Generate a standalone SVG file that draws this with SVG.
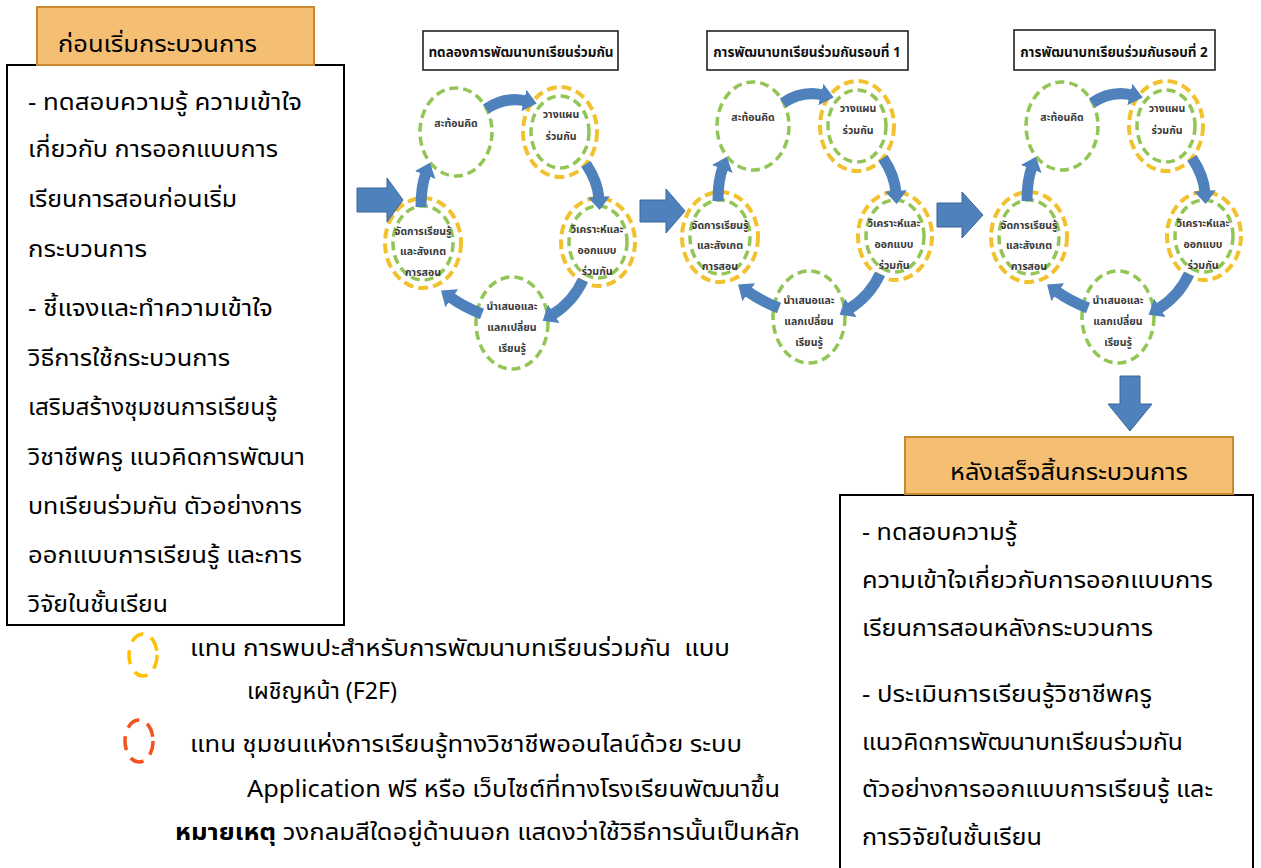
<svg xmlns="http://www.w3.org/2000/svg" width="1261" height="868" viewBox="0 0 1261 868">
<style>
.t{font-family:'Noto Sans Thai','Noto Sans','Leelawadee UI',Tahoma,'DejaVu Sans',sans-serif;fill:#000}
.b{font-size:23px}
.h{font-size:23px}
.ct{font-family:'Noto Sans Thai','Noto Sans',Tahoma,sans-serif;font-size:10.5px;font-weight:bold;text-anchor:middle;fill:#3a3a3a}
.tt{font-family:'Noto Sans Thai','Noto Sans',Tahoma,sans-serif;font-size:13.5px;font-weight:bold;text-anchor:middle;fill:#111}
.hdr{fill:#f5bf73;stroke:#c98a2e;stroke-width:2}
.box{fill:#fff;stroke:#000;stroke-width:2}
.tbox{fill:#fff;stroke:#222;stroke-width:1.6}
.g{fill:none;stroke:#92c556;stroke-width:3.5;stroke-dasharray:9 5}
.y{fill:none;stroke:#f2c12e;stroke-width:4;stroke-dasharray:10 5}
.arc{fill:none;stroke:#4f81bd;stroke-width:11;marker-end:url(#ah)}
.blk{fill:#4f81bd;stroke:#3a6596;stroke-width:1}
</style>
<defs>
<marker id="ah" viewBox="0 0 6 10" refX="1" refY="5" markerWidth="1.2" markerHeight="2" orient="auto"><path d="M0,0 L6,5 L0,10 z" fill="#4f81bd"/></marker>
</defs>
<rect width="1261" height="868" fill="#fff"/>

<g id="before">
<rect class="box" x="7" y="65" width="337" height="560"/>
<rect class="hdr" x="37" y="7" width="277" height="58"/>
<text class="t h" x="58" y="52" textLength="199" lengthAdjust="spacingAndGlyphs">ก่อนเริ่มกระบวนการ</text>
<text class="t b" x="28" y="110" textLength="274" lengthAdjust="spacingAndGlyphs">- ทดสอบความรู้ ความเข้าใจ</text>
<text class="t b" x="28" y="157" textLength="250" lengthAdjust="spacingAndGlyphs">เกี่ยวกับ การออกแบบการ</text>
<text class="t b" x="28" y="207" textLength="209" lengthAdjust="spacingAndGlyphs">เรียนการสอนก่อนเริ่ม</text>
<text class="t b" x="28" y="257" textLength="119" lengthAdjust="spacingAndGlyphs">กระบวนการ</text>
<text class="t b" x="28" y="316" textLength="245" lengthAdjust="spacingAndGlyphs">- ชี้แจงและทำความเข้าใจ</text>
<text class="t b" x="28" y="366" textLength="202" lengthAdjust="spacingAndGlyphs">วิธีการใช้กระบวนการ</text>
<text class="t b" x="28" y="415" textLength="249" lengthAdjust="spacingAndGlyphs">เสริมสร้างชุมชนการเรียนรู้</text>
<text class="t b" x="28" y="465" textLength="277" lengthAdjust="spacingAndGlyphs">วิชาชีพครู แนวคิดการพัฒนา</text>
<text class="t b" x="28" y="514" textLength="274" lengthAdjust="spacingAndGlyphs">บทเรียนร่วมกัน ตัวอย่างการ</text>
<text class="t b" x="28" y="563" textLength="274" lengthAdjust="spacingAndGlyphs">ออกแบบการเรียนรู้ และการ</text>
<text class="t b" x="28" y="612" textLength="140" lengthAdjust="spacingAndGlyphs">วิจัยในชั้นเรียน</text>
</g>

<g id="after">
<rect class="box" x="840" y="495" width="413" height="400"/>
<rect class="hdr" x="905" y="437" width="328" height="57"/>
<text class="t h" x="950" y="480" textLength="238" lengthAdjust="spacingAndGlyphs">หลังเสร็จสิ้นกระบวนการ</text>
<text class="t b" x="862" y="540" textLength="155" lengthAdjust="spacingAndGlyphs">- ทดสอบความรู้</text>
<text class="t b" x="862" y="588" textLength="351" lengthAdjust="spacingAndGlyphs">ความเข้าใจเกี่ยวกับการออกแบบการ</text>
<text class="t b" x="862" y="636" textLength="291" lengthAdjust="spacingAndGlyphs">เรียนการสอนหลังกระบวนการ</text>
<text class="t b" x="862" y="702" textLength="290" lengthAdjust="spacingAndGlyphs">- ประเมินการเรียนรู้วิชาชีพครู</text>
<text class="t b" x="862" y="750" textLength="321" lengthAdjust="spacingAndGlyphs">แนวคิดการพัฒนาบทเรียนร่วมกัน</text>
<text class="t b" x="862" y="797" textLength="351" lengthAdjust="spacingAndGlyphs">ตัวอย่างการออกแบบการเรียนรู้ และ</text>
<text class="t b" x="862" y="845" textLength="180" lengthAdjust="spacingAndGlyphs">การวิจัยในชั้นเรียน</text>
</g>

<g id="legend">
<ellipse cx="143" cy="655" rx="14" ry="21" fill="none" stroke="#ffc000" stroke-width="3.5" stroke-dasharray="14 9"/>
<ellipse cx="139" cy="741" rx="14" ry="21" fill="none" stroke="#f4511e" stroke-width="3.5" stroke-dasharray="14 9"/>
<text class="t b" x="190" y="656" textLength="540" lengthAdjust="spacingAndGlyphs" xml:space="preserve">แทน การพบปะสำหรับการพัฒนาบทเรียนร่วมกัน  แบบ</text>
<text class="t b" x="247" y="699" textLength="150" lengthAdjust="spacingAndGlyphs">เผชิญหน้า (F2F)</text>
<text class="t b" x="190" y="752" textLength="552" lengthAdjust="spacingAndGlyphs">แทน ชุมชนแห่งการเรียนรู้ทางวิชาชีพออนไลน์ด้วย ระบบ</text>
<text class="t b" x="247" y="797" textLength="533" lengthAdjust="spacingAndGlyphs">Application ฟรี หรือ เว็บไซต์ที่ทางโรงเรียนพัฒนาขึ้น</text>
<text class="t b" x="175" y="840" textLength="625" lengthAdjust="spacingAndGlyphs"><tspan font-weight="bold">หมายเหตุ</tspan> วงกลมสีใดอยู่ด้านนอก แสดงว่าใช้วิธีการนั้นเป็นหลัก</text>
</g>

<g id="titles">
<g id="title0"><rect class="tbox" x="423" y="31" width="195" height="39"/><text class="tt" x="521" y="57">ทดลองการพัฒนาบทเรียนร่วมกัน</text></g>
<g id="title1"><rect class="tbox" x="707" y="31" width="201" height="39"/><text class="tt" x="807" y="57">การพัฒนาบทเรียนร่วมกันรอบที่ 1</text></g>
<g id="title2"><rect class="tbox" x="1014" y="30" width="201" height="40"/><text class="tt" x="1114" y="57">การพัฒนาบทเรียนร่วมกันรอบที่ 2</text></g>
</g>

<g id="cycle0">
<g id="c0-reflect"><ellipse class="g" cx="456" cy="132" rx="36" ry="44"/><text class="ct" x="456" y="127">สะท้อนคิด</text></g>
<g id="c0-plan"><ellipse class="y" cx="560" cy="132" rx="37" ry="45"/><ellipse class="g" cx="560" cy="132" rx="29" ry="36"/><text class="ct" x="561" y="118">วางแผน</text><text class="ct" x="561" y="140">ร่วมกัน</text></g>
<g id="c0-analyze"><ellipse class="y" cx="598" cy="242" rx="37" ry="44"/><ellipse class="g" cx="598" cy="242" rx="29" ry="36"/><text class="ct" x="597" y="233">วิเคราะห์และ</text><text class="ct" x="597" y="254">ออกแบบ</text><text class="ct" x="597" y="275">ร่วมกัน</text></g>
<g id="c0-present"><ellipse class="g" cx="512" cy="323" rx="36" ry="46"/><text class="ct" x="512" y="310">นำเสนอและ</text><text class="ct" x="512" y="331">แลกเปลี่ยน</text><text class="ct" x="512" y="352">เรียนรู้</text></g>
<g id="c0-teach"><ellipse class="y" cx="423" cy="243" rx="38" ry="45"/><ellipse class="g" cx="423" cy="243" rx="30" ry="37"/><text class="ct" x="423" y="235">จัดการเรียนรู้</text><text class="ct" x="423" y="255">และสังเกต</text><text class="ct" x="423" y="276">การสอน</text></g>
</g>
<g id="cycle1" transform="translate(297,-6)">
<g id="c1-reflect"><ellipse class="g" cx="456" cy="132" rx="36" ry="44"/><text class="ct" x="456" y="127">สะท้อนคิด</text></g>
<g id="c1-plan"><ellipse class="y" cx="560" cy="132" rx="37" ry="45"/><ellipse class="g" cx="560" cy="132" rx="29" ry="36"/><text class="ct" x="561" y="118">วางแผน</text><text class="ct" x="561" y="140">ร่วมกัน</text></g>
<g id="c1-analyze"><ellipse class="y" cx="598" cy="242" rx="37" ry="44"/><ellipse class="g" cx="598" cy="242" rx="29" ry="36"/><text class="ct" x="597" y="233">วิเคราะห์และ</text><text class="ct" x="597" y="254">ออกแบบ</text><text class="ct" x="597" y="275">ร่วมกัน</text></g>
<g id="c1-present"><ellipse class="g" cx="512" cy="323" rx="36" ry="46"/><text class="ct" x="512" y="310">นำเสนอและ</text><text class="ct" x="512" y="331">แลกเปลี่ยน</text><text class="ct" x="512" y="352">เรียนรู้</text></g>
<g id="c1-teach"><ellipse class="y" cx="423" cy="243" rx="38" ry="45"/><ellipse class="g" cx="423" cy="243" rx="30" ry="37"/><text class="ct" x="423" y="235">จัดการเรียนรู้</text><text class="ct" x="423" y="255">และสังเกต</text><text class="ct" x="423" y="276">การสอน</text></g>
</g>
<g id="cycle2" transform="translate(606,-6)">
<g id="c2-reflect"><ellipse class="g" cx="456" cy="132" rx="36" ry="44"/><text class="ct" x="456" y="127">สะท้อนคิด</text></g>
<g id="c2-plan"><ellipse class="y" cx="560" cy="132" rx="37" ry="45"/><ellipse class="g" cx="560" cy="132" rx="29" ry="36"/><text class="ct" x="561" y="118">วางแผน</text><text class="ct" x="561" y="140">ร่วมกัน</text></g>
<g id="c2-analyze"><ellipse class="y" cx="598" cy="242" rx="37" ry="44"/><ellipse class="g" cx="598" cy="242" rx="29" ry="36"/><text class="ct" x="597" y="233">วิเคราะห์และ</text><text class="ct" x="597" y="254">ออกแบบ</text><text class="ct" x="597" y="275">ร่วมกัน</text></g>
<g id="c2-present"><ellipse class="g" cx="512" cy="323" rx="36" ry="46"/><text class="ct" x="512" y="310">นำเสนอและ</text><text class="ct" x="512" y="331">แลกเปลี่ยน</text><text class="ct" x="512" y="352">เรียนรู้</text></g>
<g id="c2-teach"><ellipse class="y" cx="423" cy="243" rx="38" ry="45"/><ellipse class="g" cx="423" cy="243" rx="30" ry="37"/><text class="ct" x="423" y="235">จัดการเรียนรู้</text><text class="ct" x="423" y="255">และสังเกต</text><text class="ct" x="423" y="276">การสอน</text></g>
</g>

<g id="connectors">
<g id="cyc-arrows0">
<path class="arc" d="M486,109 Q505,96 526,101"/>
<path class="arc" d="M586,164 Q598,182 599,199"/>
<path class="arc" d="M583,280 Q573,302 552,315"/>
<path class="arc" d="M482,314 Q464,307 450,297"/>
<path class="arc" d="M421,207 Q421,186 426,173"/>
</g>
<g id="cyc-arrows1" transform="translate(297,-6)">
<path class="arc" d="M486,109 Q505,96 526,101"/>
<path class="arc" d="M586,164 Q598,182 599,199"/>
<path class="arc" d="M583,280 Q573,302 552,315"/>
<path class="arc" d="M482,314 Q464,307 450,297"/>
<path class="arc" d="M421,207 Q421,186 426,173"/>
</g>
<g id="cyc-arrows2" transform="translate(606,-6)">
<path class="arc" d="M486,109 Q505,96 526,101"/>
<path class="arc" d="M586,164 Q598,182 599,199"/>
<path class="arc" d="M583,280 Q573,302 552,315"/>
<path class="arc" d="M482,314 Q464,307 450,297"/>
<path class="arc" d="M421,207 Q421,186 426,173"/>
</g>
<polygon class="blk" points="357,188 387,188 387,178 403,200 387,222 387,212 357,212"/>
<polygon class="blk" points="640,200 666,200 666,189 685,211 666,233 666,222 640,222"/>
<polygon class="blk" points="937,203 962,203 962,192 983,215 962,238 962,227 937,227"/>
<polygon class="blk" points="1120,376 1140,376 1140,404 1152,404 1130,431 1108,404 1120,404"/>
</g>
</svg>
